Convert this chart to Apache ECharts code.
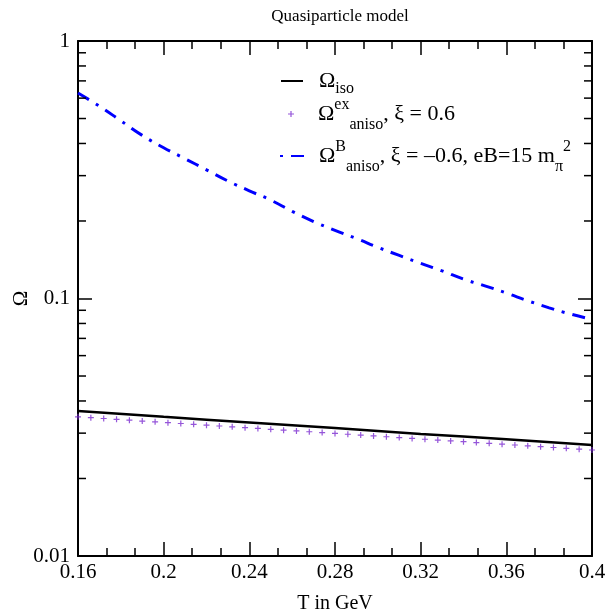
<!DOCTYPE html>
<html>
<head>
<meta charset="utf-8">
<script src="https://cdn.jsdelivr.net/npm/echarts@6/dist/echarts.min.js"></script>
<style>html,body{margin:0;padding:0;background:#fff;}#c{width:607px;height:614px;}</style>
</head>
<body>
<div id="c"></div>
<script>
// ---- data ----
const isoT = [0.16, 0.20, 0.24, 0.28, 0.32, 0.36, 0.40];
const isoVals = [0.0366, 0.0347, 0.0330, 0.0314, 0.0298, 0.0284, 0.0270];

const exT = [0.16,0.166,0.172,0.178,0.184,0.19,0.196,0.202,0.208,0.214,0.22,0.226,0.232,0.238,0.244,0.25,0.256,0.262,0.268,0.274,0.28,0.286,0.292,0.298,0.304,0.31,0.316,0.322,0.328,0.334,0.34,0.346,0.352,0.358,0.364,0.37,0.376,0.382,0.388,0.394,0.4];
const exVals = [0.0347,0.03444,0.03419,0.03393,0.03368,0.03343,0.03319,0.03295,0.0327,0.03246,0.03222,0.03198,0.03175,0.03151,0.03128,0.03105,0.03082,0.0306,0.03037,0.03015,0.02992,0.0297,0.02948,0.02927,0.02905,0.02884,0.02862,0.02841,0.0282,0.02799,0.02779,0.02758,0.02738,0.02718,0.02698,0.02678,0.02658,0.02638,0.02619,0.026,0.0258];

const bT = [0.16,0.17,0.18,0.19,0.20,0.21,0.22,0.23,0.24,0.25,0.26,0.27,0.28,0.29,0.30,0.31,0.32,0.33,0.34,0.35,0.36,0.37,0.38,0.39,0.40];
const bVals = [0.628,0.558,0.490,0.430,0.385,0.349,0.316,0.286,0.262,0.241,0.218,0.199,0.184,0.171,0.158,0.147,0.137,0.128,0.119,0.112,0.105,0.098,0.092,0.087,0.083];

const xMin = 0.16, xMax = 0.40, xStep = 0.04;
const yMin = 0.01, yMax = 1;
const yMinorTicks = [0.02,0.03,0.04,0.05,0.06,0.07,0.08,0.09,0.2,0.3,0.4,0.5,0.6,0.7,0.8,0.9];

const names = ['iso', 'ex', 'B'];
const titleText = 'Quasiparticle model';
const xName = 'T in GeV';
const yName = 'Ω';

// ---- chart ----
const FF = 'Liberation Serif';
const pair = (xs, ys) => xs.map((x, i) => [x, ys[i]]);
const plus = 'path://M2,0h1v2h2v1h-2v2h-1v-2h-2v-1h2z';
const PURPLE = '#7a2ad0';

const richFor = (lh, padLeft) => ({
  o: {fontFamily: FF, fontSize: 22, color: '#000', lineHeight: lh, padding: [0, 0, 0, padLeft]},
  t: {fontFamily: FF, fontSize: 22, color: '#000', lineHeight: lh},
  sub: {fontFamily: FF, fontSize: 16, color: '#000', verticalAlign: 'bottom'},
  sup: {fontFamily: FF, fontSize: 16, color: '#000', verticalAlign: 'top', padding: [2, 0, 0, 0]}
});

const chart = echarts.init(document.getElementById('c'), null, {renderer: 'canvas'});
const axisLine = {show: true, onZero: false, lineStyle: {color: '#000', width: 2}};
const tickStyle = {color: '#000', width: 1.5};

chart.setOption({
  animation: false,
  backgroundColor: '#fff',
  title: {
    text: titleText, left: 335, top: 3, textAlign: 'center',
    textStyle: {fontFamily: FF, fontSize: 17, fontWeight: 'normal', color: '#000'}
  },
  grid: {left: 78, right: 15, top: 41, bottom: 58, containLabel: false, outerBoundsMode: 'none'},
  legend: [
    {
      data: [names[0]], left: 280, top: 70, padding: 0, orient: 'vertical',
      itemWidth: 22, itemHeight: 12, selectedMode: false,
      itemStyle: {opacity: 0},
      formatter: () => '{o|Ω}{sub|iso}',
      textStyle: {rich: richFor(32, 11)}
    },
    {
      data: [{name: names[1], icon: plus}], left: 288, top: 97, padding: 0, orient: 'vertical',
      itemWidth: 6, itemHeight: 6, selectedMode: false,
      formatter: () => '{o|Ω}{sup|ex}{sub|aniso}{t|, ξ = 0.6}',
      textStyle: {rich: richFor(38, 19)}
    },
    {
      data: [names[2]], left: 279, top: 139, padding: 0, orient: 'vertical',
      itemWidth: 24, itemHeight: 12, selectedMode: false,
      itemStyle: {opacity: 0},
      lineStyle: {type: [13, 8, 3, 8], dashOffset: 21},
      formatter: () => '{o|Ω}{sup|B}{sub|aniso}{t|, ξ = –0.6, eB=15 m}{sub|π}{sup|2}',
      textStyle: {rich: richFor(38, 10)}
    }
  ],
  xAxis: [
    {
      type: 'value', min: xMin, max: xMax, interval: xStep, position: 'bottom',
      name: xName, nameLocation: 'middle', nameGap: 38, nameMoveOverlap: false,
      nameTextStyle: {fontFamily: FF, fontSize: 20, color: '#000'},
      axisLine: axisLine,
      axisTick: {show: true, inside: true, length: 14, lineStyle: tickStyle},
      minorTick: {show: true, splitNumber: 3, length: 8, lineStyle: tickStyle},
      axisLabel: {fontFamily: FF, fontSize: 21, color: '#000', margin: 6},
      splitLine: {show: false}
    },
    {
      type: 'value', min: xMin, max: xMax, interval: xStep, position: 'top',
      axisLine: axisLine,
      axisTick: {show: true, inside: true, length: 14, lineStyle: tickStyle},
      minorTick: {show: true, splitNumber: 3, length: 8, lineStyle: tickStyle},
      axisLabel: {show: false},
      splitLine: {show: false}
    }
  ],
  yAxis: [
    {
      type: 'log', logBase: 10, min: yMin, max: yMax, position: 'left',
      name: yName, nameLocation: 'middle', nameGap: 46, nameRotate: 90, nameMoveOverlap: false,
      nameTextStyle: {fontFamily: FF, fontSize: 21, color: '#000'},
      axisLine: axisLine,
      axisTick: {show: true, inside: true, length: 14, lineStyle: tickStyle},
      axisLabel: {fontFamily: FF, fontSize: 21, color: '#000', margin: 8},
      splitLine: {show: false}
    },
    {
      type: 'log', logBase: 10, min: yMin, max: yMax, position: 'right',
      axisLine: axisLine,
      axisTick: {show: true, inside: true, length: 14, lineStyle: tickStyle},
      axisLabel: {show: false},
      splitLine: {show: false}
    }
  ],
  series: [
    {
      name: names[0], type: 'line', data: pair(isoT, isoVals), symbol: 'none',
      smooth: true, lineStyle: {color: '#000', width: 2.5}, itemStyle: {color: '#000'}, z: 3
    },
    {
      name: names[1], type: 'scatter', data: pair(exT, exVals), symbol: plus, symbolSize: 6,
      itemStyle: {color: PURPLE}, z: 4
    },
    {
      name: names[2], type: 'line', data: pair(bT, bVals), symbol: 'none', smooth: true,
      lineStyle: {color: '#0000ff', width: 3, type: [13, 8, 3, 8], cap: 'butt'},
      itemStyle: {color: '#0000ff'}, z: 3
    },
    {
      name: 'minorY', type: 'custom', silent: true, clip: false, z: 5,
      data: yMinorTicks.map(v => [xMin, v]),
      renderItem: function (params, api) {
        const v = api.value(1);
        const pL = api.coord([xMin, v]);
        const pR = api.coord([xMax, v]);
        const st = {stroke: '#000', lineWidth: 1.5};
        return {
          type: 'group',
          children: [
            {type: 'line', shape: {x1: pL[0], y1: pL[1], x2: pL[0] + 8, y2: pL[1]}, style: st},
            {type: 'line', shape: {x1: pR[0], y1: pR[1], x2: pR[0] - 8, y2: pR[1]}, style: st}
          ]
        };
      }
    }
  ]
});
</script>
</body>
</html>
